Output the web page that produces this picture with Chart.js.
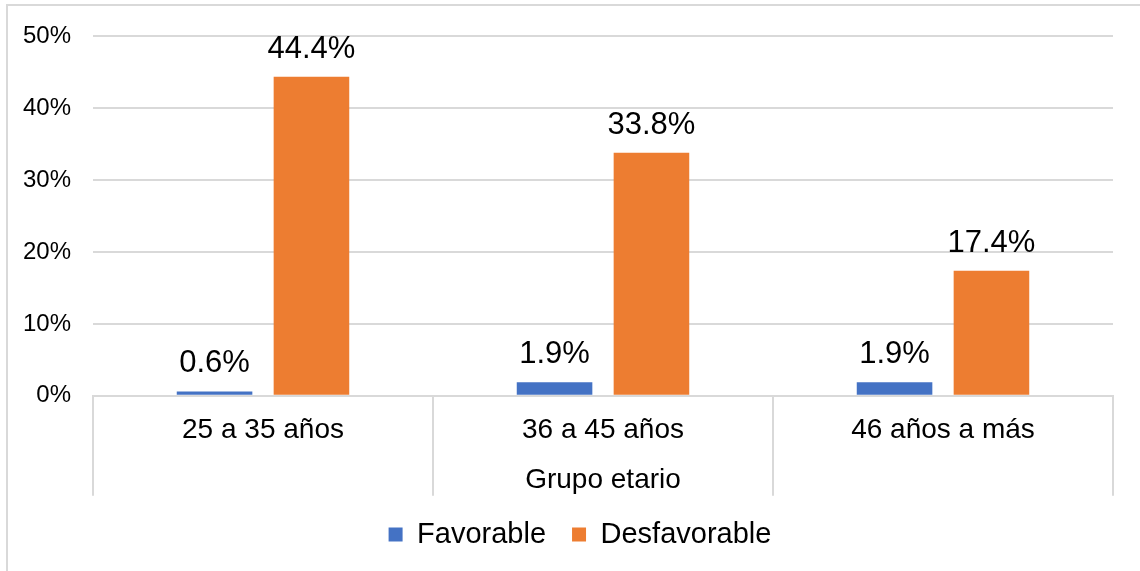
<!DOCTYPE html>
<html>
<head>
<meta charset="utf-8">
<script src="https://cdn.jsdelivr.net/npm/chart.js@4/dist/chart.umd.min.js"></script>
<style>
  html, body { margin: 0; padding: 0; background: #fff; }
  #wrap { position: relative; width: 1140px; height: 571px; }
  #frame {
    position: absolute; left: 6px; top: 4px; right: 0; bottom: 0;
    border-left: 2px solid #d9d9d9; border-top: 2px solid #d9d9d9;
    pointer-events: none;
  }
</style>
</head>
<body>
<div id="wrap">
  <canvas id="chart" width="1140" height="571"></canvas>
  <div id="frame"></div>
</div>
<script>
const categories = ['25 a 35 años', '36 a 45 años', '46 años a más'];
const favorable = [0.6, 1.9, 1.9];
const desfavorable = [44.4, 33.8, 17.4];
const yTicks = [0, 10, 20, 30, 40, 50];

const FONT = "'Liberation Sans', Arial, sans-serif";
const GRID = '#d9d9d9';

// writes the percentage over every bar
const barLabels = {
  id: 'barLabels',
  afterDatasetsDraw(chart) {
    const ctx = chart.ctx;
    ctx.save();
    ctx.font = '31px ' + FONT;
    ctx.fillStyle = '#000';
    ctx.textAlign = 'center';
    ctx.textBaseline = 'alphabetic';
    chart.data.datasets.forEach((ds, i) => {
      chart.getDatasetMeta(i).data.forEach((bar, j) => {
        ctx.fillText(ds.data[j].toFixed(1) + '%', bar.x, bar.y - 19);
      });
    });
    ctx.restore();
  }
};

// category separators hanging below the x axis
const groupLines = {
  id: 'groupLines',
  afterDraw(chart) {
    const x = chart.scales.x;
    const area = chart.chartArea;
    const n = chart.data.labels.length;
    const step = (x.right - x.left) / n;
    const ctx = chart.ctx;
    ctx.save();
    ctx.strokeStyle = GRID;
    ctx.lineWidth = 2;
    ctx.beginPath();
    for (let i = 0; i <= n; i++) {
      const px = Math.round(x.left + i * step);
      ctx.moveTo(px, area.bottom);
      ctx.lineTo(px, area.bottom + 100);
    }
    ctx.stroke();
    ctx.restore();
  }
};

new Chart(document.getElementById('chart'), {
  type: 'bar',
  data: {
    labels: categories,
    datasets: [
      { label: 'Favorable', data: favorable, backgroundColor: '#4472c4',
        categoryPercentage: 0.57, barPercentage: 0.78 },
      { label: 'Desfavorable', data: desfavorable, backgroundColor: '#ed7d31',
        categoryPercentage: 0.57, barPercentage: 0.78 }
    ]
  },
  options: {
    responsive: false,
    devicePixelRatio: 1,
    animation: false,
    layout: { padding: { top: 35, right: 0, left: 20, bottom: 12 } },
    plugins: {
      tooltip: { enabled: false },
      legend: {
        position: 'bottom',
        labels: {
          boxWidth: 14, boxHeight: 14, padding: 26,
          color: '#000', font: { family: FONT, size: 29 }
        }
      }
    },
    scales: {
      x: {
        grid: { display: false },
        border: { display: true, color: GRID, width: 2 },
        ticks: { color: '#000', padding: 10, font: { family: FONT, size: 28 } },
        title: {
          display: true, text: 'Grupo etario', color: '#000',
          font: { family: FONT, size: 28 }, padding: { top: 6, bottom: -3 }
        }
      },
      y: {
        min: 0, max: 50,
        afterBuildTicks(axis) { axis.ticks = yTicks.map(v => ({ value: v })); },
        afterFit(axis) { axis.width = 73; },
        grid: { color: GRID, lineWidth: 2, drawTicks: false },
        border: { display: false },
        ticks: {
          padding: 22, color: '#000', font: { family: FONT, size: 24 },
          callback: v => v + '%'
        }
      },
      // empty strip on the right side of the plot
      yRight: {
        position: 'right',
        display: true,
        afterFit(axis) { axis.width = 27; },
        grid: { drawOnChartArea: false, drawTicks: false },
        border: { display: false },
        ticks: { display: false }
      }
    }
  },
  plugins: [barLabels, groupLines]
});
</script>
</body>
</html>
